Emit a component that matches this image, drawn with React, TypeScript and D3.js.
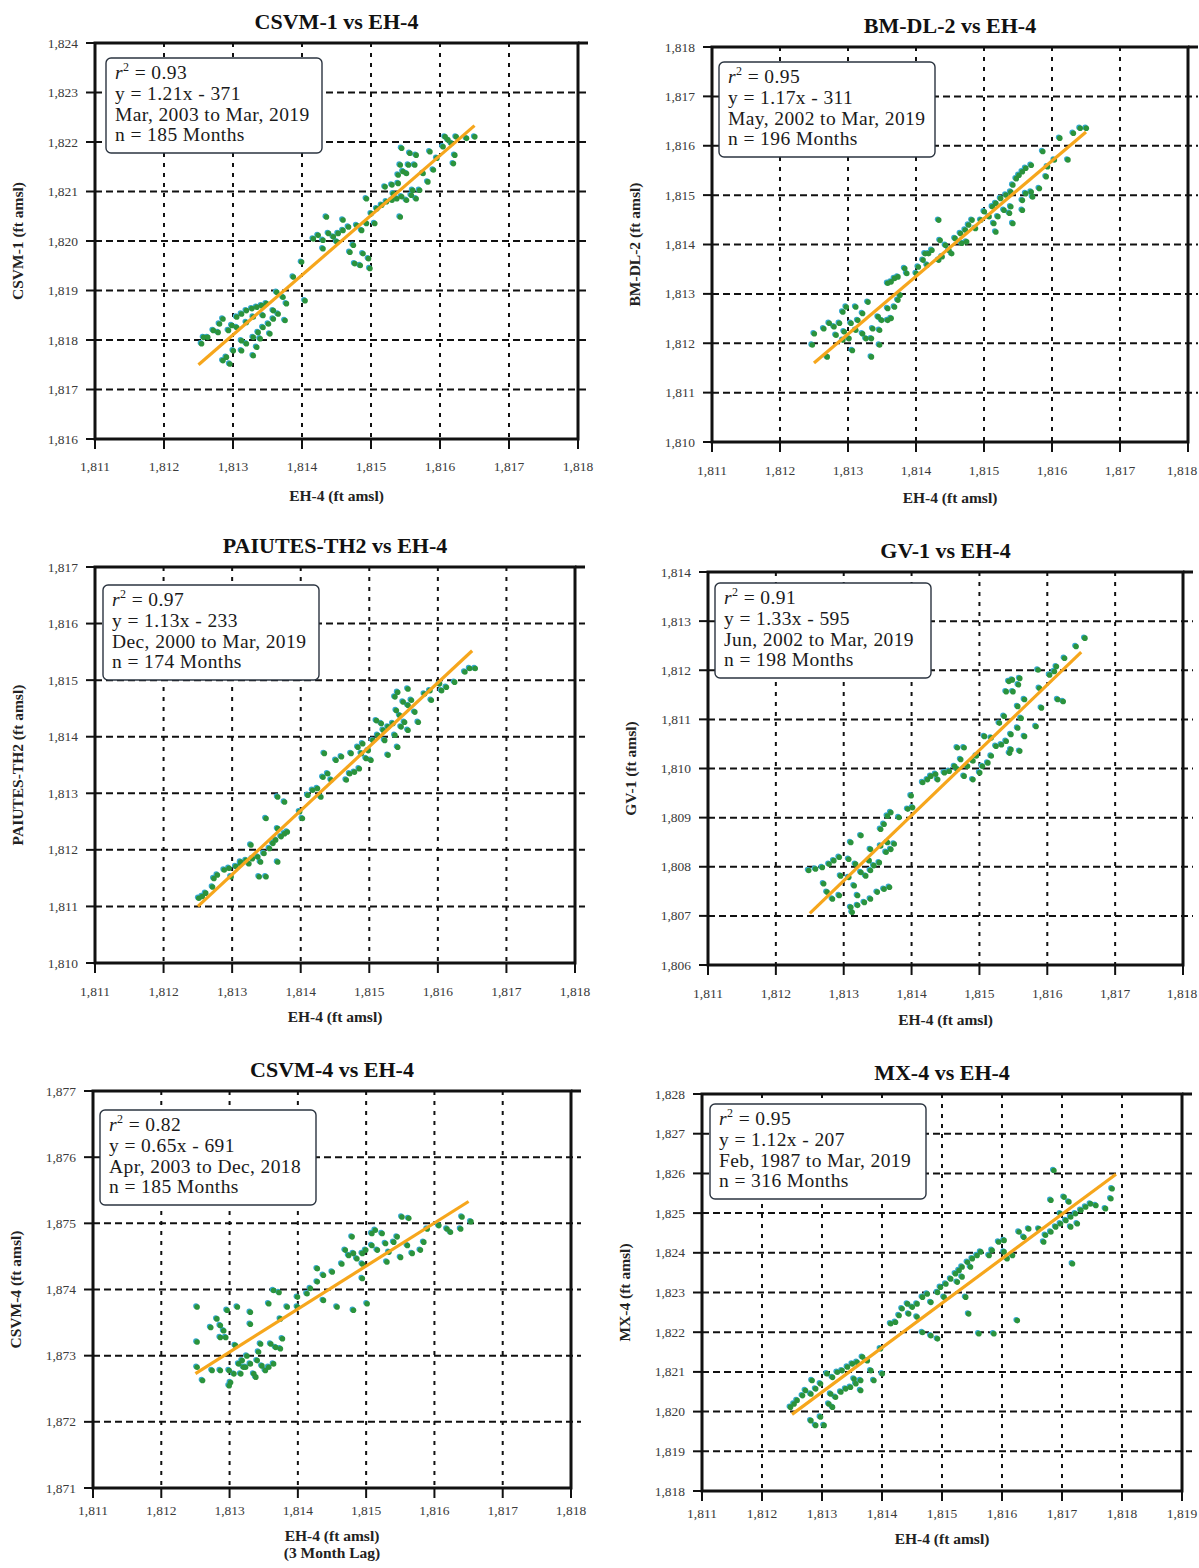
import { useRef, useEffect } from "react";
import * as d3 from "d3";

// ---- chart values ----
const titles = [
  "CSVM-1 vs EH-4",
  "BM-DL-2 vs EH-4",
  "PAIUTES-TH2 vs EH-4",
  "GV-1 vs EH-4",
  "CSVM-4 vs EH-4",
  "MX-4 vs EH-4",
];
const yLabels = [
  "CSVM-1 (ft amsl)",
  "BM-DL-2 (ft amsl)",
  "PAIUTES-TH2 (ft amsl)",
  "GV-1 (ft amsl)",
  "CSVM-4 (ft amsl)",
  "MX-4 (ft amsl)",
];
const xLabels = [
  ["EH-4 (ft amsl)"],
  ["EH-4 (ft amsl)"],
  ["EH-4 (ft amsl)"],
  ["EH-4 (ft amsl)"],
  ["EH-4 (ft amsl)", "(3 Month Lag)"],
  ["EH-4 (ft amsl)"],
];
const r2Values = ["0.93", "0.95", "0.97", "0.91", "0.82", "0.95"];
const equations = [
  "y = 1.21x - 371",
  "y = 1.17x - 311",
  "y = 1.13x - 233",
  "y = 1.33x - 595",
  "y = 0.65x - 691",
  "y = 1.12x - 207",
];
const periods = [
  "Mar, 2003 to Mar, 2019",
  "May, 2002 to Mar, 2019",
  "Dec, 2000 to Mar, 2019",
  "Jun, 2002 to Mar, 2019",
  "Apr, 2003 to Dec, 2018",
  "Feb, 1987 to Mar, 2019",
];
const monthCounts = [185, 196, 174, 198, 185, 316];

const xDomains = [
  [1811, 1818],
  [1811, 1818],
  [1811, 1818],
  [1811, 1818],
  [1811, 1818],
  [1811, 1819],
];
const yDomains = [
  [1816, 1824],
  [1810, 1818],
  [1810, 1817],
  [1806, 1814],
  [1871, 1877],
  [1818, 1828],
];

// regression line end points
const fitLines = [
  [[1812.5, 1817.5], [1816.5, 1822.33]],
  [[1812.5, 1811.6], [1816.5, 1816.28]],
  [[1812.5, 1811.0], [1816.5, 1815.52]],
  [[1812.5, 1807.05], [1816.5, 1812.37]],
  [[1812.5, 1872.73], [1816.5, 1875.33]],
  [[1812.5, 1819.93], [1817.9, 1825.98]],
];

const csvm1Points = [
  [1812.57, 1818.06], [1812.54, 1817.93], [1812.71, 1818.2], [1812.8, 1818.33], [1812.85, 1818.43],
  [1812.93, 1818.2], [1812.98, 1818.3], [1813.05, 1818.47], [1813.12, 1818.53], [1813.19, 1818.6],
  [1813.27, 1818.64], [1813.34, 1818.67], [1813.41, 1818.7], [1813.48, 1818.74], [1813.58, 1818.6],
  [1813.65, 1818.53], [1813.75, 1818.4], [1813.63, 1818.97], [1813.72, 1818.87], [1813.77, 1818.74],
  [1812.9, 1817.66], [1812.85, 1817.59], [1812.95, 1817.52], [1813.12, 1817.99], [1813.19, 1817.93],
  [1813.29, 1818.06], [1813.36, 1818.16], [1813.43, 1818.26], [1813.51, 1818.33], [1813.53, 1818.13],
  [1813.29, 1817.69], [1813.12, 1817.79], [1813.34, 1817.86], [1813.05, 1818.26], [1812.78, 1818.16],
  [1812.63, 1818.06], [1813.19, 1818.36], [1813.29, 1818.47], [1813.43, 1818.5], [1813.58, 1818.43],
  [1813.39, 1818.03], [1813.0, 1817.79], [1813.87, 1819.28], [1814.04, 1818.8], [1813.99, 1819.58],
  [1814.16, 1820.05], [1814.23, 1820.12], [1814.3, 1820.02], [1814.38, 1820.16], [1814.45, 1820.09],
  [1814.52, 1820.16], [1814.35, 1820.49], [1814.59, 1820.43], [1814.67, 1820.29], [1814.3, 1819.85],
  [1814.5, 1819.99], [1814.79, 1820.32], [1814.86, 1820.22], [1814.93, 1820.36], [1814.69, 1819.78],
  [1814.74, 1819.92], [1814.88, 1819.75], [1814.96, 1819.65], [1814.76, 1819.55], [1814.84, 1819.51],
  [1814.98, 1819.45], [1814.59, 1820.22], [1815.0, 1820.56], [1815.05, 1820.36], [1815.08, 1820.66],
  [1815.15, 1820.73], [1815.22, 1820.8], [1815.3, 1820.83], [1815.37, 1820.86], [1815.44, 1820.9],
  [1815.51, 1820.83], [1815.58, 1820.93], [1815.65, 1820.86], [1815.42, 1820.49], [1814.93, 1820.86],
  [1815.2, 1821.1], [1815.3, 1821.14], [1815.39, 1821.17], [1815.39, 1821.34], [1815.46, 1821.41],
  [1815.54, 1821.54], [1815.63, 1821.54], [1815.42, 1821.54], [1815.56, 1821.78], [1815.65, 1821.74],
  [1815.44, 1821.88], [1815.51, 1821.37], [1815.75, 1821.37], [1815.82, 1821.2], [1815.9, 1821.44],
  [1815.85, 1821.81], [1815.95, 1821.68], [1816.04, 1821.91], [1816.11, 1822.05], [1816.16, 1821.98],
  [1816.21, 1821.74], [1816.19, 1821.57], [1816.23, 1822.11], [1816.38, 1822.08], [1816.5, 1822.11],
  [1816.07, 1822.11], [1815.7, 1821.03], [1815.6, 1821.03], [1815.32, 1820.96],
];

const bmdl2Points = [
  [1812.5, 1812.2], [1812.47, 1811.97], [1812.64, 1812.3], [1812.72, 1812.41], [1812.79, 1812.34],
  [1812.87, 1812.41], [1812.92, 1812.64], [1812.94, 1812.24], [1813.01, 1812.1], [1812.97, 1812.74],
  [1813.04, 1812.41], [1813.11, 1812.27], [1813.14, 1812.47], [1813.21, 1812.2], [1813.29, 1812.84],
  [1813.21, 1812.61], [1813.26, 1812.1], [1813.34, 1812.1], [1813.36, 1812.3], [1813.44, 1812.54],
  [1813.49, 1812.47], [1813.58, 1812.47], [1813.63, 1812.51], [1813.46, 1812.27], [1813.34, 1811.73],
  [1813.46, 1811.97], [1812.69, 1811.73], [1813.06, 1811.86], [1812.92, 1812.07], [1812.82, 1812.17],
  [1813.11, 1812.74], [1813.58, 1812.71], [1813.68, 1812.74], [1813.73, 1812.88], [1813.76, 1812.98],
  [1813.58, 1813.22], [1813.63, 1813.25], [1813.68, 1813.32], [1813.73, 1813.35], [1813.86, 1813.42],
  [1813.83, 1813.52], [1814.0, 1813.42], [1814.03, 1813.55], [1814.1, 1813.69], [1814.18, 1813.82],
  [1814.16, 1813.59], [1814.33, 1813.69], [1814.38, 1813.76], [1814.13, 1813.82], [1814.23, 1813.89],
  [1814.33, 1814.5], [1814.35, 1814.09], [1814.43, 1813.99], [1814.48, 1813.89], [1814.52, 1813.82],
  [1814.57, 1814.13], [1814.65, 1814.23], [1814.72, 1814.3], [1814.77, 1814.4], [1814.82, 1814.5],
  [1814.87, 1814.33], [1814.67, 1814.03], [1814.74, 1814.06], [1814.95, 1814.5], [1815.0, 1814.67],
  [1815.07, 1814.57], [1815.12, 1814.77], [1815.17, 1814.84], [1815.24, 1814.94], [1815.32, 1815.01],
  [1815.39, 1815.07], [1815.17, 1814.26], [1815.14, 1814.43], [1815.2, 1814.57], [1815.29, 1814.7],
  [1815.39, 1814.77], [1815.42, 1814.43], [1815.37, 1814.64], [1815.56, 1814.7], [1815.56, 1814.9],
  [1815.61, 1815.04], [1815.69, 1815.07], [1815.81, 1815.14], [1815.71, 1814.97], [1815.42, 1815.21],
  [1815.47, 1815.34], [1815.51, 1815.41], [1815.56, 1815.48], [1815.61, 1815.55], [1815.69, 1815.61],
  [1815.91, 1815.38], [1815.93, 1815.58], [1815.86, 1815.89], [1816.03, 1815.72], [1816.23, 1815.72],
  [1816.11, 1816.16], [1816.41, 1816.36], [1816.5, 1816.36], [1816.31, 1816.26],
];

const paiutesPoints = [
  [1812.51, 1811.15], [1812.56, 1811.18], [1812.61, 1811.24], [1812.73, 1811.5], [1812.78, 1811.56],
  [1812.71, 1811.35], [1812.88, 1811.65], [1812.95, 1811.68], [1812.98, 1811.53], [1813.05, 1811.71],
  [1813.12, 1811.76], [1813.2, 1811.82], [1813.24, 1811.76], [1813.29, 1811.85], [1813.37, 1811.88],
  [1813.41, 1811.79], [1813.46, 1811.94], [1813.39, 1811.53], [1813.49, 1811.53], [1813.66, 1811.79],
  [1813.27, 1812.09], [1813.12, 1811.79], [1813.54, 1812.03], [1813.59, 1812.12], [1813.63, 1812.18],
  [1813.71, 1812.24], [1813.76, 1812.29], [1813.8, 1812.32], [1813.66, 1812.38], [1813.49, 1812.56],
  [1813.76, 1812.85], [1813.66, 1812.94], [1814.02, 1812.56], [1813.98, 1812.68], [1814.1, 1812.97],
  [1814.17, 1813.06], [1814.24, 1813.09], [1814.29, 1812.94], [1814.32, 1813.29], [1814.39, 1813.35],
  [1814.34, 1813.71], [1814.44, 1813.24], [1814.51, 1813.59], [1814.59, 1813.65], [1814.66, 1813.24],
  [1814.71, 1813.35], [1814.78, 1813.38], [1814.85, 1813.44], [1814.73, 1813.71], [1814.83, 1813.82],
  [1814.9, 1813.88], [1814.95, 1813.62], [1814.98, 1813.76], [1815.05, 1813.94], [1815.12, 1814.03],
  [1815.2, 1814.12], [1815.27, 1814.18], [1815.34, 1814.24], [1815.27, 1813.68], [1815.22, 1813.94],
  [1815.41, 1813.82], [1815.37, 1814.03], [1815.46, 1814.18], [1815.51, 1814.26], [1815.44, 1814.38],
  [1815.39, 1814.47], [1815.56, 1814.56], [1815.49, 1814.62], [1815.37, 1814.71], [1815.41, 1814.79],
  [1815.56, 1814.85], [1815.61, 1814.65], [1815.66, 1814.44], [1815.71, 1814.26], [1815.56, 1814.12],
  [1815.8, 1814.76], [1815.88, 1814.82], [1815.9, 1814.65], [1816.05, 1814.82], [1816.02, 1814.94],
  [1816.12, 1814.88], [1816.24, 1814.97], [1816.39, 1815.15], [1816.46, 1815.21], [1816.54, 1815.21],
  [1815.17, 1814.24], [1815.1, 1814.29], [1814.88, 1813.71], [1815.02, 1813.59],
];

const gv1Points = [
  [1812.48, 1807.93], [1812.58, 1807.96], [1812.68, 1807.99], [1812.78, 1808.06], [1812.85, 1808.13],
  [1812.93, 1808.2], [1812.7, 1807.66], [1812.75, 1807.49], [1812.83, 1807.35], [1812.93, 1807.42],
  [1812.95, 1807.82], [1813.1, 1808.5], [1813.25, 1808.64], [1813.07, 1808.16], [1813.17, 1808.06],
  [1813.25, 1807.89], [1813.07, 1807.79], [1813.15, 1807.62], [1813.32, 1807.82], [1813.39, 1807.93],
  [1813.44, 1808.03], [1813.52, 1808.09], [1813.37, 1808.13], [1813.39, 1808.36], [1813.62, 1808.3],
  [1813.69, 1808.36], [1813.74, 1808.47], [1813.64, 1808.5], [1813.54, 1808.43], [1813.1, 1807.18],
  [1813.12, 1807.08], [1813.2, 1807.22], [1813.3, 1807.28], [1813.39, 1807.35], [1813.49, 1807.49],
  [1813.59, 1807.55], [1813.67, 1807.59], [1813.2, 1807.42], [1813.54, 1808.77], [1813.64, 1809.04],
  [1813.59, 1808.87], [1813.69, 1809.11], [1813.81, 1809.01], [1813.94, 1809.18], [1813.99, 1809.45],
  [1814.01, 1809.21], [1814.16, 1809.72], [1814.23, 1809.78], [1814.28, 1809.85], [1814.35, 1809.89],
  [1814.38, 1809.78], [1814.48, 1809.92], [1814.55, 1809.95], [1814.63, 1810.05], [1814.67, 1809.99],
  [1814.67, 1810.43], [1814.77, 1810.43], [1814.72, 1810.19], [1814.82, 1810.05], [1814.9, 1810.16],
  [1814.95, 1810.26], [1815.0, 1809.92], [1815.04, 1810.05], [1815.12, 1810.12], [1815.17, 1810.26],
  [1814.77, 1809.85], [1814.9, 1809.78], [1815.07, 1810.66], [1815.17, 1810.63], [1815.24, 1810.46],
  [1815.32, 1810.49], [1815.39, 1810.56], [1815.46, 1810.39], [1815.44, 1810.32], [1815.59, 1810.36],
  [1815.29, 1810.93], [1815.36, 1811.07], [1815.46, 1810.7], [1815.56, 1810.83], [1815.66, 1810.66],
  [1815.83, 1810.86], [1815.61, 1811.03], [1815.56, 1811.27], [1815.66, 1811.41], [1815.39, 1811.57],
  [1815.49, 1811.57], [1815.57, 1811.71], [1815.48, 1811.81], [1815.43, 1811.78], [1815.59, 1811.84],
  [1815.88, 1811.64], [1815.91, 1811.24], [1815.86, 1812.01], [1816.03, 1811.91], [1816.1, 1811.98],
  [1816.13, 1812.08], [1816.15, 1811.41], [1816.23, 1811.37], [1816.25, 1812.25], [1816.42, 1812.49],
  [1816.55, 1812.66],
];

const csvm4Points = [
  [1812.52, 1873.74], [1812.52, 1873.21], [1812.52, 1872.83], [1812.6, 1872.63], [1812.72, 1873.43],
  [1812.81, 1873.56], [1812.86, 1873.46], [1812.91, 1873.38], [1812.94, 1873.28], [1812.86, 1873.28],
  [1812.96, 1873.69], [1813.11, 1873.74], [1813.3, 1873.66], [1813.3, 1873.48], [1812.74, 1872.78],
  [1812.86, 1872.78], [1812.99, 1872.78], [1813.01, 1872.6], [1812.99, 1872.55], [1813.08, 1873.16],
  [1813.13, 1872.88], [1813.18, 1872.93], [1813.2, 1872.83], [1813.16, 1872.73], [1813.25, 1873.0],
  [1813.3, 1872.88], [1813.35, 1872.73], [1813.4, 1872.93], [1813.42, 1873.06], [1813.45, 1873.18],
  [1813.47, 1872.85], [1813.52, 1872.78], [1813.57, 1872.83], [1813.64, 1872.88], [1813.6, 1873.18],
  [1813.67, 1873.13], [1813.74, 1873.11], [1813.77, 1873.26], [1813.38, 1872.68], [1813.23, 1872.83],
  [1813.06, 1872.73], [1813.74, 1873.56], [1813.57, 1873.79], [1813.64, 1873.99], [1813.72, 1873.96],
  [1813.84, 1873.74], [1813.99, 1873.74], [1813.99, 1873.89], [1814.13, 1873.94], [1814.18, 1874.02],
  [1814.28, 1874.12], [1814.28, 1874.32], [1814.37, 1874.22], [1814.37, 1873.84], [1814.5, 1874.27],
  [1814.57, 1873.74], [1814.81, 1873.69], [1814.64, 1874.39], [1814.69, 1874.6], [1814.74, 1874.52],
  [1814.81, 1874.55], [1814.86, 1874.47], [1814.94, 1874.55], [1814.99, 1874.6], [1814.94, 1874.39],
  [1814.94, 1874.17], [1815.01, 1873.79], [1814.79, 1874.8], [1815.08, 1874.85], [1815.08, 1874.67],
  [1815.16, 1874.6], [1815.23, 1874.85], [1815.28, 1874.7], [1815.33, 1874.57], [1815.3, 1874.42],
  [1815.4, 1874.72], [1815.45, 1874.8], [1815.5, 1874.49], [1815.52, 1875.1], [1815.62, 1875.08],
  [1815.6, 1874.67], [1815.67, 1874.55], [1815.79, 1874.6], [1815.84, 1874.72], [1815.89, 1874.92],
  [1815.13, 1874.9], [1816.06, 1874.97], [1816.18, 1874.92], [1816.23, 1874.87], [1816.38, 1874.92],
  [1816.4, 1875.1], [1816.53, 1875.03],
];

const mx4Points = [
  [1812.47, 1820.12], [1812.53, 1820.2], [1812.58, 1820.29], [1812.67, 1820.41], [1812.72, 1820.54],
  [1812.81, 1820.45], [1812.89, 1820.58], [1812.97, 1820.71], [1812.83, 1820.79], [1813.08, 1820.96],
  [1813.17, 1820.87], [1813.25, 1821.0], [1813.33, 1821.04], [1813.42, 1821.13], [1813.5, 1821.21],
  [1813.58, 1821.25], [1813.67, 1821.38], [1813.75, 1821.29], [1813.14, 1820.45], [1813.22, 1820.37],
  [1813.31, 1820.5], [1813.39, 1820.58], [1813.47, 1820.62], [1813.56, 1820.71], [1813.64, 1820.79],
  [1813.64, 1820.54], [1813.53, 1820.83], [1813.11, 1820.2], [1813.17, 1820.12], [1812.81, 1819.78],
  [1812.89, 1819.66], [1813.03, 1819.66], [1812.97, 1819.87], [1813.97, 1821.59], [1814.0, 1820.96],
  [1814.14, 1822.22], [1814.22, 1822.26], [1814.28, 1822.43], [1814.33, 1822.6], [1814.42, 1822.72],
  [1814.5, 1822.64], [1814.58, 1822.72], [1814.67, 1822.89], [1814.75, 1822.97], [1814.81, 1822.76],
  [1814.92, 1823.01], [1814.97, 1823.14], [1815.06, 1823.22], [1815.14, 1823.35], [1815.22, 1823.48],
  [1815.28, 1823.56], [1815.33, 1823.65], [1815.42, 1823.77], [1815.5, 1823.86], [1815.58, 1823.94],
  [1815.33, 1823.4], [1815.47, 1823.65], [1815.25, 1823.27], [1815.03, 1822.89], [1814.67, 1822.0],
  [1814.81, 1821.92], [1814.92, 1821.84], [1815.39, 1822.89], [1815.44, 1822.47], [1815.61, 1821.97],
  [1815.86, 1821.97], [1816.25, 1822.3], [1815.78, 1823.94], [1815.83, 1824.07], [1815.94, 1824.28],
  [1816.03, 1824.32], [1816.08, 1823.86], [1816.17, 1823.94], [1816.28, 1824.53], [1816.44, 1824.61],
  [1816.61, 1824.61], [1816.72, 1824.45], [1816.69, 1824.28], [1816.81, 1824.53], [1816.89, 1824.66],
  [1816.97, 1824.74], [1817.06, 1824.82], [1817.14, 1824.91], [1817.22, 1824.99], [1817.31, 1825.08],
  [1817.39, 1825.16], [1817.47, 1825.24], [1817.56, 1825.2], [1816.81, 1825.33], [1817.03, 1825.41],
  [1817.11, 1825.29], [1816.97, 1824.99], [1817.14, 1824.66], [1817.17, 1823.73], [1817.72, 1825.12],
  [1817.81, 1825.37], [1817.83, 1825.62], [1816.86, 1826.08], [1813.86, 1820.79], [1813.81, 1821.04],
  [1814.58, 1822.39], [1814.44, 1822.47], [1815.64, 1824.03], [1816.03, 1824.03], [1816.36, 1824.4],
  [1817.25, 1824.74],
];

const pointSets = [csvm1Points, bmdl2Points, paiutesPoints, gv1Points, csvm4Points, mx4Points];

// ---- layout ----
const frames = [
  { left: 95, top: 43, right: 578, bottom: 439, boxDx: 11, boxDy: 15, tickDy: 32, labelDy: 62 },
  { left: 712, top: 47, right: 1188, bottom: 442, boxDx: 7, boxDy: 15, tickDy: 33, labelDy: 61 },
  { left: 95, top: 567, right: 575, bottom: 963, boxDx: 8, boxDy: 18, tickDy: 33, labelDy: 59 },
  { left: 708, top: 572, right: 1183, bottom: 965, boxDx: 7, boxDy: 11, tickDy: 33, labelDy: 60 },
  { left: 93, top: 1091, right: 571, bottom: 1488, boxDx: 7, boxDy: 19, tickDy: 27, labelDy: 53 },
  { left: 702, top: 1094, right: 1182, bottom: 1491, boxDx: 8, boxDy: 10, tickDy: 27, labelDy: 53 },
];

const FONT = "'Liberation Serif', 'DejaVu Serif', serif";
const GREEN = "#2b933c";
const ORANGE = "#f6a61c";
const PAGE_W = 1199;

export default function App() {
  const ref = useRef<HTMLDivElement>(null);
  useEffect(() => {
    const div = d3.select(ref.current);
    div.selectAll("*").remove();
    const svg = div
      .append("svg")
      .attr("width", PAGE_W)
      .attr("height", 1568)
      .style("position", "absolute")
      .style("left", "0px")
      .style("top", "0px")
      .style("background", "#fff")
      .style("font-family", FONT);

    frames.forEach((f, i) => {
      const g = svg.append("g");
      const x = d3.scaleLinear().domain(xDomains[i]).range([f.left, f.right]);
      const y = d3.scaleLinear().domain(yDomains[i]).range([f.bottom, f.top]);
      const xTicks = d3.range(xDomains[i][0], xDomains[i][1] + 1);
      const yTicks = d3.range(yDomains[i][0], yDomains[i][1] + 1);
      const fmt = d3.format(",");

      // dashed grid
      g.selectAll(".vgrid")
        .data(xTicks.slice(1, -1))
        .join("line")
        .attr("x1", (d) => x(d))
        .attr("x2", (d) => x(d))
        .attr("y1", f.top)
        .attr("y2", f.bottom)
        .attr("stroke", "#111")
        .attr("stroke-width", 2)
        .attr("stroke-dasharray", "4,6");
      g.selectAll(".hgrid")
        .data(yTicks.slice(1, -1))
        .join("line")
        .attr("x1", f.left)
        .attr("x2", f.right + 10)
        .attr("y1", (d) => y(d))
        .attr("y2", (d) => y(d))
        .attr("stroke", "#111")
        .attr("stroke-width", 2)
        .attr("stroke-dasharray", "7,4");

      // frame + ticks
      g.append("rect")
        .attr("x", f.left)
        .attr("y", f.top)
        .attr("width", f.right - f.left)
        .attr("height", f.bottom - f.top)
        .attr("fill", "none")
        .attr("stroke", "#111")
        .attr("stroke-width", 3);
      g.append("line")
        .attr("x1", f.right)
        .attr("x2", f.right + 10)
        .attr("y1", f.top)
        .attr("y2", f.top)
        .attr("stroke", "#111")
        .attr("stroke-width", 3);
      g.selectAll(".ytick")
        .data(yTicks)
        .join("line")
        .attr("x1", f.left - 9)
        .attr("x2", f.left)
        .attr("y1", (d) => y(d))
        .attr("y2", (d) => y(d))
        .attr("stroke", "#111")
        .attr("stroke-width", 2);
      g.selectAll(".xtick")
        .data(xTicks)
        .join("line")
        .attr("x1", (d) => x(d))
        .attr("x2", (d) => x(d))
        .attr("y1", f.bottom)
        .attr("y2", f.bottom + 10)
        .attr("stroke", "#111")
        .attr("stroke-width", 2);

      // tick labels
      g.selectAll(".ylab")
        .data(yTicks)
        .join("text")
        .attr("x", f.left - 17)
        .attr("y", (d) => y(d) + 4.5)
        .attr("text-anchor", "end")
        .attr("font-size", 13.5)
        .attr("fill", "#3a3a3a")
        .text((d) => fmt(d));
      g.selectAll(".xlab")
        .data(xTicks)
        .join("text")
        .attr("x", (d) => Math.min(x(d), PAGE_W - 17))
        .attr("y", f.bottom + f.tickDy)
        .attr("text-anchor", "middle")
        .attr("font-size", 13.5)
        .attr("fill", "#3a3a3a")
        .text((d) => fmt(d));

      // points (slight colour fringe like the scan)
      const pts = pointSets[i];
      g.selectAll(".fringe")
        .data(pts)
        .join("circle")
        .attr("cx", (d) => x(d[0]) - 0.8)
        .attr("cy", (d) => y(d[1]) - 0.6)
        .attr("r", 2.8)
        .attr("fill", "#35a9cf");
      g.selectAll(".pt")
        .data(pts)
        .join("circle")
        .attr("cx", (d) => x(d[0]) + 0.3)
        .attr("cy", (d) => y(d[1]) + 0.3)
        .attr("r", 2.8)
        .attr("fill", GREEN);

      // regression line
      g.append("path")
        .attr("d", d3.line().x((d) => x(d[0])).y((d) => y(d[1]))(fitLines[i]))
        .attr("stroke", ORANGE)
        .attr("stroke-width", 3.2)
        .attr("fill", "none");

      // stats box
      const bx = f.left + f.boxDx;
      const by = f.top + f.boxDy;
      g.append("rect")
        .attr("x", bx)
        .attr("y", by)
        .attr("width", 216)
        .attr("height", 95)
        .attr("rx", 5)
        .attr("fill", "#fff")
        .attr("stroke", "#2b3440")
        .attr("stroke-width", 1.4);
      const tx = bx + 9;
      const r2 = g
        .append("text")
        .attr("x", tx)
        .attr("y", by + 21)
        .attr("font-size", 19.5)
        .attr("letter-spacing", 0.4)
        .attr("fill", "#1a1a1a");
      r2.append("tspan").attr("font-style", "italic").text("r");
      r2.append("tspan").attr("font-size", 12).attr("dy", -8).text("2");
      r2.append("tspan").attr("dy", 8).text(" = " + r2Values[i]);
      [equations[i], periods[i], `n = ${monthCounts[i]} Months`].forEach((s, k) => {
        g.append("text")
          .attr("x", tx)
          .attr("y", by + 42 + k * 20.5)
          .attr("font-size", 19.5)
          .attr("letter-spacing", 0.4)
          .attr("fill", "#1a1a1a")
          .text(s);
      });

      // titles and axis labels
      const cx = (f.left + f.right) / 2;
      g.append("text")
        .attr("x", cx)
        .attr("y", f.top - 14)
        .attr("text-anchor", "middle")
        .attr("font-size", 22)
        .attr("font-weight", "bold")
        .attr("fill", "#111")
        .text(titles[i]);
      xLabels[i].forEach((s, k) => {
        g.append("text")
          .attr("x", cx)
          .attr("y", f.bottom + f.labelDy + k * 17)
          .attr("text-anchor", "middle")
          .attr("font-size", 15.5)
          .attr("font-weight", "bold")
          .attr("fill", "#222")
          .text(s);
      });
      const cy = (f.top + f.bottom) / 2;
      g.append("text")
        .attr("transform", `translate(${f.left - 72}, ${cy}) rotate(-90)`)
        .attr("text-anchor", "middle")
        .attr("font-size", 15.5)
        .attr("font-weight", "bold")
        .attr("fill", "#222")
        .text(yLabels[i]);
    });
  }, []);
  return <div ref={ref} />;
}
